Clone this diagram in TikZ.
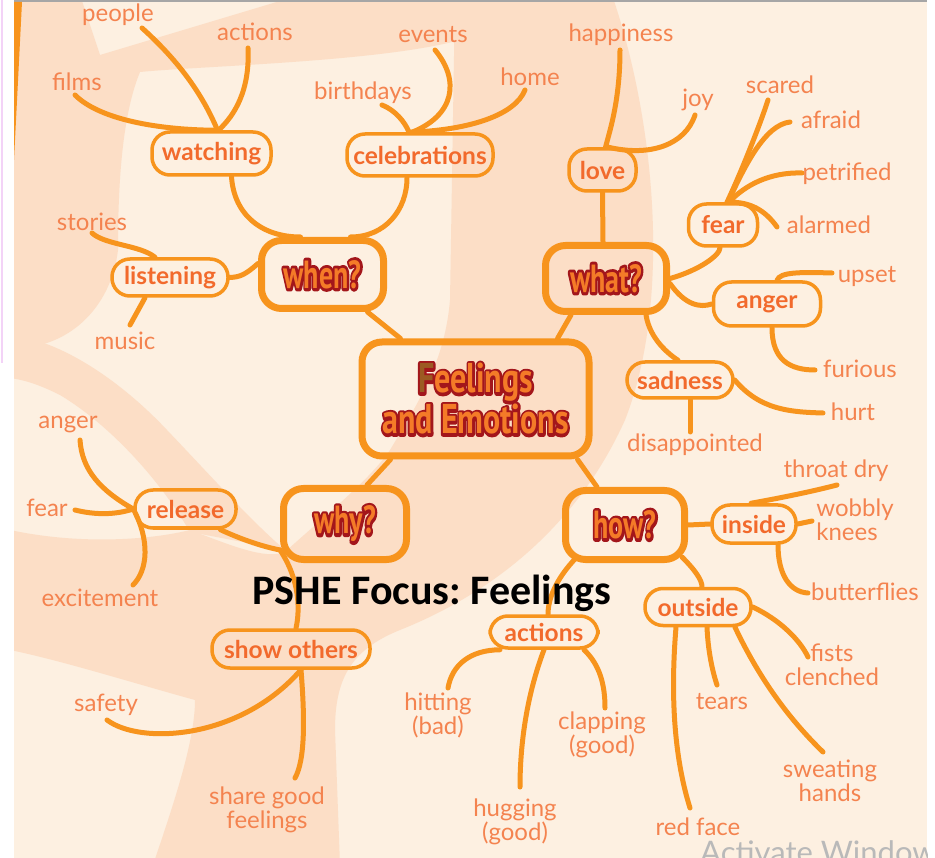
\documentclass[tikz,border=0pt]{standalone}
\usepackage{fontspec}
\usepackage{graphicx}
\setmainfont{Lato}
\newfontfamily\qfont{PT Sans}
\newfontfamily\pshefont{Carlito}
\definecolor{cream}{HTML}{FDF0E1}
\definecolor{peach}{HTML}{FCDEC6}
\definecolor{lorange}{HTML}{F7941D}
\definecolor{leaftxt}{HTML}{F4834F}
\definecolor{brtxt}{HTML}{F26A2C}
\definecolor{qdark}{HTML}{A3161B}
\definecolor{qfill}{HTML}{F47B28}
\definecolor{fbrown}{HTML}{9C5A22}
\definecolor{violetline}{HTML}{F3D3F7}
\newcommand\fb[1]{\textcolor{fbrown}{#1}}
% outlined display text: a stroked dark-red copy under an orange copy
\newcommand\qtext[2][qfill]{%
 \rlap{\def\fb##1{##1}\special{pdf:literal 2 Tr 4.4 w 1 j 0.639 0.086 0.106 RG}\textcolor{qdark}{#2}\special{pdf:literal 0 Tr}}%
 \textcolor{#1}{#2}}
\tikzset{
 leaf/.style={text=leaftxt, font=\fontsize{24}{24}\selectfont, inner sep=0pt, align=center},
 branch/.style={draw=lorange, line width=3.5pt, rounded corners=18pt, text=brtxt,
   font=\bfseries\fontsize{24.5}{26}\selectfont, inner sep=0pt},
 qbox/.style={draw=lorange, line width=7pt, rounded corners=20pt, inner sep=0pt,
   font=\qfont\bfseries\fontsize{28}{30}\selectfont},
 conn/.style={draw=lorange, line width=5pt, line cap=round},
}
\begin{document}
\begin{tikzpicture}[x=1pt,y=-1pt]
\useasboundingbox (0,0) rectangle (935,858);
% ---------- background ----------
\fill[white] (0,0) rectangle (935,858);
\fill[cream] (14,2) rectangle (927,858);
\begin{scope}
\clip (14,2) rectangle (927,858);
\fill[peach] (455,-5) -- (612,-5) .. controls (655,120) and (672,300) .. (625,420)
 .. controls (580,520) and (500,590) .. (400,630)
 .. controls (350,650) and (335,680) .. (335,730) -- (340,865) -- (153,865)
 .. controls (175,800) and (195,740) .. (195,700)
 .. controls (140,685) and (60,660) .. (10,650) -- (10,530)
 .. controls (80,545) and (150,540) .. (190,530)
 .. controls (230,545) and (265,560) .. (285,552)
 .. controls (320,520) and (370,480) .. (390,450)
 .. controls (420,400) and (445,360) .. (450,300) -- cycle;
\fill[peach] (10,335) .. controls (60,340) and (120,380) .. (167,430)
 .. controls (210,475) and (250,520) .. (285,550) -- (190,532)
 .. controls (160,480) and (110,425) .. (60,395)
 .. controls (40,385) and (25,380) .. (10,378) -- cycle;
\fill[peach] (10,-5) -- (80,-5) -- (100,55) -- (300,-5) -- (470,-5)
 -- (460,40) .. controls (380,62) and (200,66) .. (140,72)
 .. controls (120,120) and (118,200) .. (118,250)
 .. controls (112,300) and (80,335) .. (40,345) -- (10,345) -- cycle;
\end{scope}
\draw[violetline, line width=2pt] (2,0) -- (2,363);
\draw[gray!70, line width=2.5pt] (14,1) -- (927,1);
\fill[lorange] (14,2) -- (22,2) -- (14,160) -- cycle;
% ---------- main nodes ----------
\node[qbox, align=center, minimum width=227, minimum height=114,
  font=\qfont\bfseries\fontsize{32}{41}\selectfont] (ctr) at (475.5,399)
 {\scalebox{1}[1.3]{\qtext{\fb{F}eelings}}\\
  \scalebox{1}[1.3]{\qtext{and Emotions}}};
\node[qbox, minimum width=122, minimum height=68] (when) at (322.5,274.5) {\scalebox{1}[1.4]{\qtext{when?}}};
\node[qbox, minimum width=121, minimum height=66] (what) at (606,278.5) {\scalebox{1}[1.4]{\qtext{what?}}};
\node[qbox, minimum width=123, minimum height=71] (why) at (345,524) {\scalebox{1}[1.4]{\qtext{why?}}};
\node[qbox, minimum width=119, minimum height=69] (how) at (625,525) {\scalebox{1}[1.4]{\qtext{how?}}};
% ---------- branch nodes ----------
\node[branch, minimum width=119, minimum height=43] (watching) at (211.5,153.5) {watching};
\node[branch, minimum width=146, minimum height=42] (celebr) at (420,155) {celebrations};
\node[branch, minimum width=116, minimum height=37] (listening) at (170,277.5) {listening};
\node[branch, minimum width=67, minimum height=42] (love) at (602.5,170) {love};
\node[branch, minimum width=69, minimum height=42] (fearb) at (723,225) {fear};
\node[branch, minimum width=107, minimum height=44] (angerb) at (767,304) {anger};
\node[branch, minimum width=106, minimum height=36] (sadness) at (680,380) {sadness};
\node[branch, minimum width=101, minimum height=38] (release) at (185.5,509) {release};
\node[branch, minimum width=158, minimum height=38] (showoth) at (291,649) {show others};
\node[branch, minimum width=108, minimum height=32] (actionsb) at (544,632) {actions};
\node[branch, minimum width=106, minimum height=37] (outside) at (698,607) {outside};
\node[branch, minimum width=84, minimum height=38] (inside) at (754,524) {inside};
% ---------- leaf labels ----------
\node[leaf] (people) at (118,15) {people};
\node[leaf] (actionsl) at (255,32) {actions};
\node[leaf] (films) at (77,82) {films};
\node[leaf] (events) at (433,35) {events};
\node[leaf] (birthdays) at (363,93) {birthdays};
\node[leaf] (home) at (530,77) {home};
\node[leaf] (happiness) at (621,35) {happiness};
\node[leaf] (joy) at (698,100) {joy};
\node[leaf] (scared) at (780,85) {scared};
\node[leaf] (afraid) at (831,120) {afraid};
\node[leaf] (petrified) at (847,174) {petrified};
\node[leaf] (alarmed) at (829,225) {alarmed};
\node[leaf] (upset) at (867,277) {upset};
\node[leaf] (furious) at (860,369) {furious};
\node[leaf] (hurt) at (853,412) {hurt};
\node[leaf] (disap) at (695,445) {disappointed};
\node[leaf] (throat) at (836,471) {throat dry};
\node[leaf, align=left] (wobbly) at (855,520) {wobbly\\knees};
\node[leaf] (butter) at (865,592) {butterflies};
\node[leaf] (fists) at (832,665) {fists\\clenched};
\node[leaf] (tears) at (722,702) {tears};
\node[leaf] (sweat) at (830,781) {sweating\\hands};
\node[leaf] (redface) at (698,827) {red face};
\node[leaf] (clap) at (602,735) {clapping\\(good)};
\node[leaf] (hug) at (515,822) {hugging\\(good)};
\node[leaf] (hit) at (438,715) {hitting\\(bad)};
\node[leaf] (share) at (267,810) {share good\\feelings};
\node[leaf] (safety) at (106,705) {safety};
\node[leaf] (excite) at (100,598) {excitement};
\node[leaf] (fearl) at (47,508) {fear};
\node[leaf] (angerl) at (68,425) {anger};
\node[leaf] (stories) at (92,222) {stories};
\node[leaf] (music) at (125,341) {music};
% ---------- free ends ----------
\coordinate (e-films) at (75,95);
\coordinate (e-people) at (142,28);
\coordinate (e-act1) at (248,48);
\coordinate (e-birth) at (382,105);
\coordinate (e-events) at (435,50);
\coordinate (e-home) at (525,90);
\coordinate (e-stories) at (92,233);
\coordinate (e-music) at (130,325);
\coordinate (e-happy) at (620,50);
\coordinate (e-joy) at (695,115);
\coordinate (e-scared) at (768,100);
\coordinate (e-afraid) at (790,122);
\coordinate (e-petri) at (802,173);
\coordinate (e-alarm) at (777,227);
\coordinate (e-upset) at (832,273);
\coordinate (e-furious) at (815,370);
\coordinate (e-hurt) at (823,413);
\coordinate (e-disap) at (690,432);
\coordinate (e-throat) at (837,485);
\coordinate (e-wobbly) at (812,521);
\coordinate (e-butter) at (808,593);
\coordinate (e-fists) at (808,657);
\coordinate (e-tears) at (717,685);
\coordinate (e-sweat) at (823,752);
\coordinate (e-red) at (690,808);
\coordinate (e-clap) at (605,708);
\coordinate (e-hug) at (520,787);
\coordinate (e-hit) at (448,688);
\coordinate (e-anger) at (80,440);
\coordinate (e-fear) at (75,510);
\coordinate (e-excite) at (133,585);
\coordinate (e-safety) at (107,720);
\coordinate (e-share) at (295,778);
% ---------- connectors ----------
\draw[conn] ([xshift=-75]ctr.north) -- ([xshift=45]when.south);
\draw[conn] ([xshift=82]ctr.north) -- ([xshift=-35]what.south);
\draw[conn] ([xshift=-85]ctr.south) -- ([xshift=22]why.north);
\draw[conn] ([xshift=102]ctr.south) -- ([xshift=-28]how.north);
% when
\draw[conn] ([xshift=20]watching.south) .. controls (234,215) and (262,237) .. ([xshift=-22]when.north);
\draw[conn] ([xshift=-13]celebr.south) .. controls (407,210) and (385,237) .. ([xshift=28]when.north);
\draw[conn] ([yshift=11]when.west) .. controls (245,275) and (240,277) .. (listening.east);
\draw[conn] ([xshift=-15]listening.north) .. controls (140,245) and (105,245) .. (e-stories);
\draw[conn] ([xshift=-25]listening.south) -- (e-music);
\draw[conn] (e-films) .. controls (100,120) and (160,130) .. ([xshift=5]watching.north);
\draw[conn] (e-people) .. controls (172,55) and (200,88) .. ([xshift=6]watching.north);
\draw[conn] (e-act1) .. controls (250,90) and (235,115) .. ([xshift=7]watching.north);
\draw[conn] (e-birth) .. controls (395,110) and (405,122) .. ([xshift=-11]celebr.north);
\draw[conn] (e-events) .. controls (460,80) and (455,115) .. ([xshift=-8]celebr.north);
\draw[conn] (e-home) .. controls (515,115) and (470,130) .. ([xshift=-10]celebr.north);
% what
\draw[conn] (e-happy) .. controls (620,100) and (610,130) .. ([xshift=3]love.north);
\draw[conn] (e-joy) .. controls (685,145) and (650,157) .. ([xshift=6]love.north);
\draw[conn] (love.south) -- ([xshift=-3]what.north);
\draw[conn] (what.east) .. controls (700,270) and (720,255) .. ([xshift=-3]fearb.south);
\draw[conn] (e-scared) .. controls (760,125) and (740,175) .. ([xshift=4]fearb.north);
\draw[conn] (e-afraid) .. controls (765,125) and (745,165) .. ([xshift=5]fearb.north);
\draw[conn] (e-petri) .. controls (770,172) and (745,185) .. ([xshift=6]fearb.north);
\draw[conn] (e-alarm) .. controls (765,210) and (750,202) .. ([xshift=7]fearb.north);
\draw[conn] ([yshift=-5]what.east) .. controls (685,305) and (700,308) .. (angerb.west);
\draw[conn] ([xshift=10]angerb.north) .. controls (780,272) and (800,272) .. (e-upset);
\draw[conn] ([xshift=5]angerb.south) .. controls (772,360) and (790,370) .. (e-furious);
\draw[conn] ([xshift=40]what.south) .. controls (650,340) and (670,355) .. ([xshift=-2]sadness.north);
\draw[conn] (sadness.east) .. controls (760,410) and (790,412) .. (e-hurt);
\draw[conn] ([xshift=10]sadness.south) -- (e-disap);
% how
\draw[conn] (how.east) -- (inside.west);
\draw[conn] ([xshift=-3]inside.north) .. controls (780,498) and (810,492) .. (e-throat);
\draw[conn] (inside.east) -- (e-wobbly);
\draw[conn] ([xshift=24]inside.south) .. controls (778,575) and (790,592) .. (e-butter);
\draw[conn] ([xshift=57,yshift=6]how.south) .. controls (695,570) and (702,580) .. ([xshift=4]outside.north);
\draw[conn] ([xshift=-50,yshift=4]how.south) .. controls (560,575) and (548,595) .. ([xshift=4]actionsb.north);
\draw[conn] (outside.east) .. controls (780,620) and (800,640) .. (e-fists);
\draw[conn] ([xshift=9]outside.south) .. controls (708,650) and (712,670) .. (e-tears);
\draw[conn] ([xshift=37]outside.south) .. controls (760,680) and (790,720) .. (e-sweat);
\draw[conn] ([xshift=-22]outside.south) .. controls (670,700) and (675,760) .. (e-red);
\draw[conn] ([xshift=40]actionsb.south) .. controls (600,665) and (605,685) .. (e-clap);
\draw[conn] (actionsb.south) .. controls (525,700) and (520,750) .. (e-hug);
\draw[conn] ([xshift=-44]actionsb.south) .. controls (470,650) and (452,665) .. (e-hit);
% why
\draw[conn] ([yshift=-26]why.west) .. controls (255,545) and (232,535) .. ([xshift=35]release.south);
\draw[conn] ([yshift=-26]why.west) .. controls (300,580) and (300,610) .. ([xshift=5]showoth.north);
\draw[conn] (release.west) .. controls (100,490) and (82,470) .. (e-anger);
\draw[conn] (release.west) .. controls (115,515) and (95,515) .. (e-fear);
\draw[conn] (release.west) .. controls (150,540) and (148,570) .. (e-excite);
\draw[conn] ([xshift=10]showoth.south) .. controls (240,740) and (140,745) .. (e-safety);
\draw[conn] ([xshift=10]showoth.south) .. controls (305,720) and (305,760) .. (e-share);
% ---------- overlay text ----------
\node[font=\pshefont\bfseries\fontsize{42}{44}\selectfont\frenchspacing, text=black, inner sep=0pt] (pshe) at (432,593) {PSHE Focus: Feelings};
\begin{scope}
\clip (14,2) rectangle (927,858);
\node[font=\fontsize{31}{33}\selectfont, text=gray!55, anchor=base west, inner sep=0pt] (watermark) at (700,863) {Activate Windows};
\end{scope}
\end{tikzpicture}
\end{document}
